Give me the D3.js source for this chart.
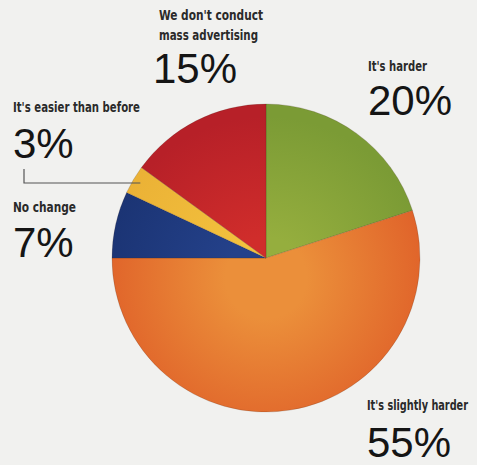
<!DOCTYPE html>
<html>
<head>
<meta charset="utf-8">
<script src="https://cdn.jsdelivr.net/npm/d3@7"></script>
<style>
html,body{margin:0;padding:0;background:#f1f1ef;}
svg{display:block;}
</style>
</head>
<body>
<svg id="chart" width="477" height="465"></svg>
<script>
// ---- data ----
const categories = ["It's harder", "It's slightly harder", "No change", "It's easier than before", "We don't conduct mass advertising"];
const values = [20, 55, 7, 3, 15];
const valueLabels = ["20%", "55%", "7%", "3%", "15%"];
const labelLines = [["It's harder"], ["It's slightly harder"], ["No change"], ["It's easier than before"], ["We don't conduct", "mass advertising"]];
const innerColors = ["#95ae3e", "#eb8f3a", "#24418a", "#f3c13d", "#d02d2b"];
const outerColors = ["#7b9b35", "#e0632a", "#1b3474", "#ebb236", "#b72028"];

// ---- layout (text placement) ----
const labelLayout = [
  {x: 368, y: 71, numY: 115, w: [59]},
  {x: 367, y: 410, numY: 457, w: [101], size: 11.5, stretchY: 1.2},
  {x: 13, y: 212, numY: 257, w: [63]},
  {x: 13, y: 112, numY: 158, w: [127]},
  {x: 159, y: 20, numY: 83, w: [104, 99], lineGap: 20, numX: 153}
];

const svg = d3.select("#chart");
const cx = 266, cy = 258, R = 154;

// gradients in the pie group's local coordinates (centre = 0,0)
const defs = svg.append("defs");
innerColors.forEach((c, i) => {
  const g = defs.append("radialGradient")
    .attr("id", "grad" + i)
    .attr("gradientUnits", "userSpaceOnUse")
    .attr("cx", 0).attr("cy", 20).attr("r", R * 1.05)
    .attr("fx", 0).attr("fy", 20);
  g.append("stop").attr("offset", "0").attr("stop-color", c);
  g.append("stop").attr("offset", "0.25").attr("stop-color", c);
  g.append("stop").attr("offset", "1").attr("stop-color", outerColors[i]);
});

const pie = d3.pie().sort(null).startAngle(0).endAngle(2 * Math.PI);
const arc = d3.arc().innerRadius(0).outerRadius(R);

const g = svg.append("g").attr("transform", `translate(${cx},${cy})`);
g.selectAll("path").data(pie(values)).join("path")
  .attr("d", arc)
  .attr("fill", (d, i) => `url(#grad${i})`)
  .attr("stroke", "rgba(60,40,30,0.3)")
  .attr("stroke-width", 0.6);

// labels
const font = "'Liberation Sans Narrow','DejaVu Sans Condensed','Liberation Sans',sans-serif";
labelLines.forEach((lines, i) => {
  const L = labelLayout[i];
  lines.forEach((t, j) => {
    const ty = L.y + j * (L.lineGap || 0);
    const sy = L.stretchY || 1;
    svg.append("text")
      .attr("transform", `translate(${L.x},${ty}) scale(1,${sy})`)
      .attr("font-family", font).attr("font-weight", "bold")
      .attr("font-size", L.size || 14).attr("fill", "#2a2a2a")
      .attr("textLength", L.w[j]).attr("lengthAdjust", "spacingAndGlyphs")
      .text(t);
  });
  svg.append("text")
    .attr("x", L.numX || L.x).attr("y", L.numY)
    .attr("font-family", "'Liberation Sans',Arial,sans-serif")
    .attr("font-size", 42).attr("fill", "#151515")
    .text(valueLabels[i]);
});

// leader line for the 3% slice
const slice3 = pie(values)[3];
const midA = (slice3.startAngle + slice3.endAngle) / 2;
const ex = cx + Math.sin(midA) * (R - 8);
const lineY = 183;
svg.append("path")
  .attr("d", `M24,169 L24,${lineY} L${ex},${lineY}`)
  .attr("fill", "none").attr("stroke", "#555").attr("stroke-width", 1.2);
</script>
</body>
</html>
